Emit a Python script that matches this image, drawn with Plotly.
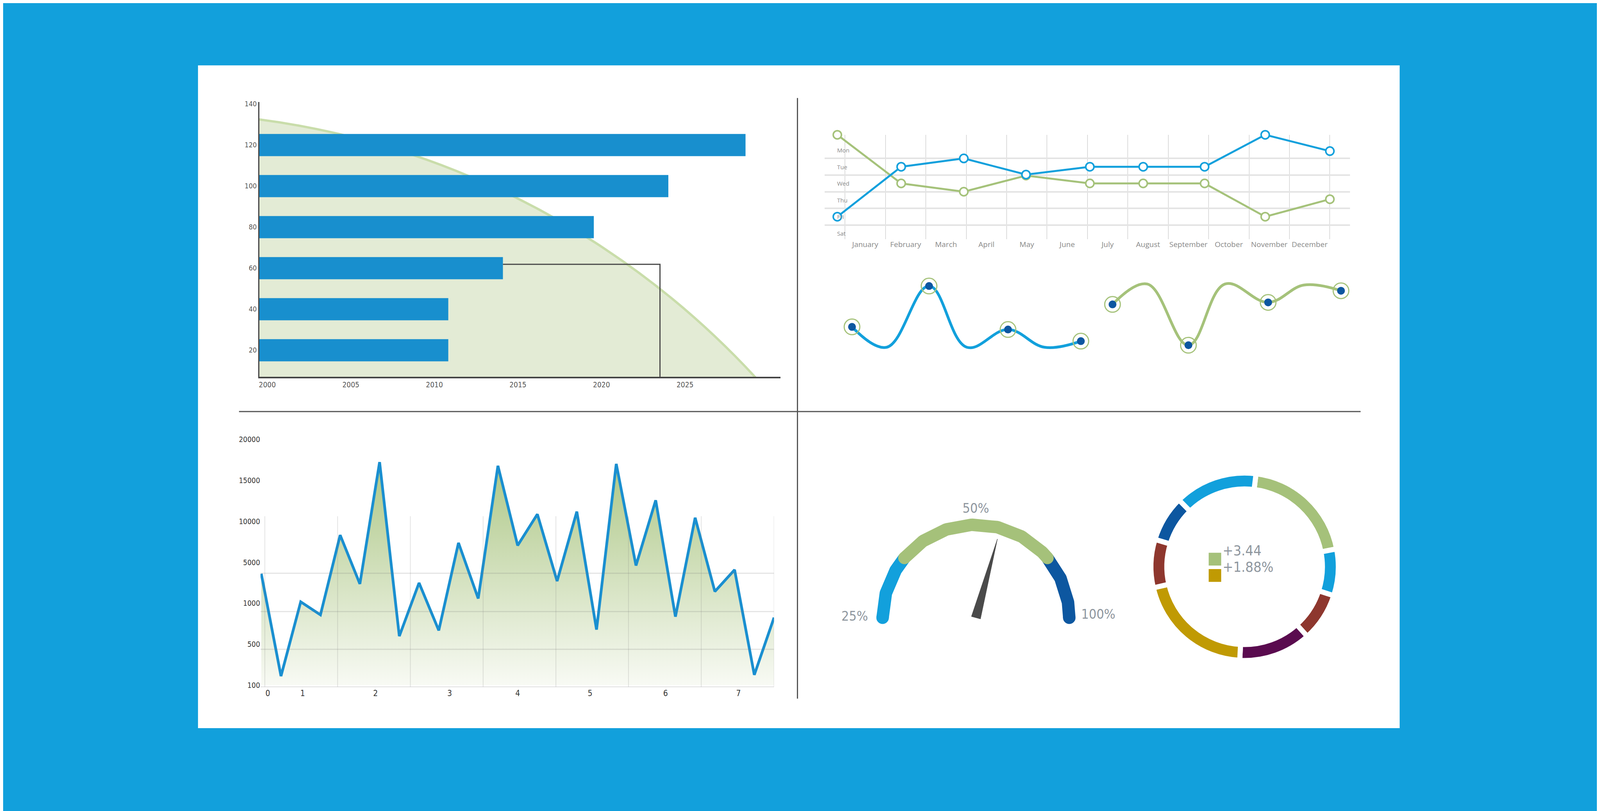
import numpy as np
import plotly.graph_objects as go

W, H = 4117, 2075
OX, OY = -22, -13  # compensate page offset
NARROW = "Liberation Sans Narrow, DejaVu Sans Condensed, Arial Narrow, sans-serif"

# ---- panel 1: horizontal bars (years) ----
bar_y = [120, 100, 80, 60, 40, 20]
bar_end = [2028.62, 2024.0, 2019.54, 2014.1, 2010.83, 2010.83]
bar_x_ticks = [2000, 2005, 2010, 2015, 2020, 2025]
bar_y_ticks = [20, 40, 60, 80, 100, 120, 140]
bar_x_start = 1999.52
bracket_x = [2014.1, 2023.5]
bracket_y = 61.9
ellipse_c = (1993.21, -269.4)
ellipse_ab = (49.2, 405.2)

# ---- panel 2: day lines ----
months = ["January", "February", "March", "April", "May", "June", "July",
          "August", "September", "October", "November", "December"]
days = ["Mon", "Tue", "Wed", "Thu", "Fri", "Sat"]
day_x = [-0.69, 0.89, 2.44, 3.98, 5.56, 6.88, 8.4, 9.9, 11.5]
blue_days = [4.0, 1.0, 0.5, 1.47, 1.0, 1.0, 1.0, -0.92, 0.06]
green_days = [-0.92, 2.0, 2.5, 1.53, 2.0, 2.0, 2.0, 4.0, 2.95]

# ---- panel 3: waves ----
wave_blue_x = [0, 0.91, 2.02, 3.01, 4.09, 5.05, 6.0]
wave_blue_y = [20, 0, 60, 0, 17.4, 0, 6]
wave_green_x = [6.83, 7.74, 8.82, 9.78, 10.91, 11.85, 12.82]
wave_green_y = [42, 62, 2, 62, 44, 61, 55.4]
marker_idx = [0, 2, 4, 6]

# ---- panel 4: area chart ----
area_vals = [3900, 190, 1150, 860, 8340, 2900, 17250, 600, 3000, 670, 7390, 1480,
             16800, 7070, 10885, 3180, 11205, 680, 17035, 4700, 12585, 838, 10460,
             2160, 4280, 202, 827]
area_y_ticks = [100, 500, 1000, 5000, 10000, 15000, 20000]
area_x_labels = ["0", "1", "2", "3", "4", "5", "6", "7"]
area_x_label_pos = [0.33, 2.1, 5.79, 9.55, 13.0, 16.67, 20.5, 24.2]
area_grid_x = [0.18, 3.87, 7.56, 11.25, 14.94, 18.62, 22.31, 26.0]
area_grid_y = [-0.04, 0.878, 1.80, 2.735]

# ---- panel 5: gauge ----
gauge_bounds = [180, 140, 40, 0]
gauge_colors = ["#12A0DC", "#A5C17A", "#0D57A0"]
gauge_labels = ["25%", "50%", "100%"]
gauge_label_pos = [(-1.30, 0.02), (0.0, 1.18), (1.31, 0.04)]
needle_angle = 74.8
needle_len = 0.877

# ---- panel 6: donut ----
donut_vals = [72, 29, 30, 45, 74, 30, 28.5, 51.5]
donut_colors = ["#A5C17A", "#12A0DC", "#8E372E", "#5A0B4F", "#C09A03",
                "#8E372E", "#0D57A0", "#12A0DC"]
donut_legend = ["+3.44", "+1.88%"]
donut_legend_colors = ["#A5C17A", "#C09A03"]

BLUE = "#12A0DC"
GREEN = "#A5C27A"
DARKBLUE = "#0D57A0"


def PX(a):
    return (a + OX) / W


def PY(a):
    return 1 - (a + OY) / H


def px2paper_x(a, b):
    return [PX(a), PX(b)]


def px2paper_y(top, bottom):
    return [PY(bottom), PY(top)]


fig = go.Figure()

# panel 1
fig.add_trace(go.Bar(y=bar_y, x=[e - bar_x_start for e in bar_end], base=bar_x_start,
                     orientation="h", width=10.8, marker=dict(color="#188FCE", line_width=0),
                     xaxis="x", yaxis="y"))
fig.add_trace(go.Scatter(x=[bracket_x[0], bracket_x[1], bracket_x[1]],
                         y=[bracket_y, bracket_y, 7.0], mode="lines",
                         line=dict(color="#4a4a4a", width=3), xaxis="x", yaxis="y"))

# panel 2
fig.add_trace(go.Scatter(x=day_x, y=green_days, mode="lines+markers",
                         line=dict(color=GREEN, width=5),
                         marker=dict(size=21, color="white", line=dict(color=GREEN, width=4)),
                         cliponaxis=False, xaxis="x2", yaxis="y2"))
fig.add_trace(go.Scatter(x=day_x, y=blue_days, mode="lines+markers",
                         line=dict(color=BLUE, width=5),
                         marker=dict(size=21, color="white", line=dict(color=BLUE, width=4)),
                         cliponaxis=False, xaxis="x2", yaxis="y2"))

# panel 3
for wx, wy, col in [(wave_blue_x, wave_blue_y, BLUE), (wave_green_x, wave_green_y, GREEN)]:
    fig.add_trace(go.Scatter(x=wx, y=wy, mode="lines", line=dict(color=col, width=7, shape="spline", smoothing=1.1),
                             cliponaxis=False, xaxis="x3", yaxis="y3"))
    mx = [wx[i] for i in marker_idx]
    my = [wy[i] for i in marker_idx]
    fig.add_trace(go.Scatter(x=mx, y=my, mode="markers",
                             marker=dict(symbol="circle-open", size=40, color=GREEN, line=dict(color=GREEN, width=3)),
                             cliponaxis=False, xaxis="x3", yaxis="y3"))
    fig.add_trace(go.Scatter(x=mx, y=my, mode="markers",
                             marker=dict(symbol="circle", size=20, color=DARKBLUE),
                             cliponaxis=False, xaxis="x3", yaxis="y3"))

# panel 4
pos = np.interp(area_vals, area_y_ticks, np.arange(len(area_y_ticks)))
idx = list(range(len(area_vals)))
fig.add_trace(go.Scatter(x=idx, y=pos, mode="lines", fill="tozeroy",
                         fillgradient=dict(type="vertical",
                                           colorscale=[[0, "#F8FAF4"], [1, "#ADC786"]]),
                         line=dict(color="#1A8FD0", width=7), cliponaxis=False,
                         xaxis="x4", yaxis="y4"))


# panel 5 gauge
def arc(a0, a1):
    t = np.radians(np.linspace(a0, a1, 120))
    return np.cos(t), np.sin(t)


for i in [0, 2]:
    ax_, ay_ = arc(gauge_bounds[i], gauge_bounds[i + 1])
    fig.add_trace(go.Scatter(x=ax_, y=ay_, mode="lines", line=dict(color=gauge_colors[i], width=32),
                             xaxis="x5", yaxis="y5"))
for ang, col in [(180, gauge_colors[0]), (0, gauge_colors[2])]:
    fig.add_trace(go.Scatter(x=[np.cos(np.radians(ang))], y=[np.sin(np.radians(ang))], mode="markers",
                             marker=dict(size=32, color=col), xaxis="x5", yaxis="y5"))
ax_, ay_ = arc(gauge_bounds[1], gauge_bounds[2])
fig.add_trace(go.Scatter(x=ax_, y=ay_, mode="lines", line=dict(color=gauge_colors[1], width=32),
                         xaxis="x5", yaxis="y5"))
fig.add_trace(go.Scatter(x=[np.cos(np.radians(a)) for a in gauge_bounds[1:3]],
                         y=[np.sin(np.radians(a)) for a in gauge_bounds[1:3]], mode="markers",
                         marker=dict(size=32, color=gauge_colors[1]), xaxis="x5", yaxis="y5"))
na = np.radians(needle_angle)
px_, py_ = -np.sin(na) * 0.05, np.cos(na) * 0.05
fig.add_trace(go.Scatter(x=[px_, needle_len * np.cos(na), -px_, px_],
                         y=[py_, needle_len * np.sin(na), -py_, py_],
                         mode="lines", fill="toself", fillcolor="#4A4A4A",
                         line=dict(color="#4A4A4A", width=1), xaxis="x5", yaxis="y5"))

# panel 6 donut
fig.add_trace(go.Pie(values=donut_vals, marker=dict(colors=donut_colors, line=dict(color="white", width=13)),
                     hole=0.83, sort=False, direction="clockwise", rotation=7, textinfo="none",
                     hoverinfo="skip", domain=dict(x=px2paper_x(2959, 3441), y=px2paper_y(1216, 1698))))

shapes = [
    dict(type="rect", xref="paper", yref="paper", x0=PX(520), x1=PX(3597), y0=PY(1872), y1=PY(168),
         fillcolor="white", line_width=0, layer="below"),
    dict(type="line", xref="paper", yref="paper", x0=PX(2055), x1=PX(2055), y0=PY(1796), y1=PY(252),
         line=dict(color="#555", width=3)),
    dict(type="line", xref="paper", yref="paper", x0=PX(625), x1=PX(3497), y0=PY(1058), y1=PY(1058),
         line=dict(color="#555", width=3)),
    dict(type="circle", xref="x", yref="y", x0=ellipse_c[0] - ellipse_ab[0], x1=ellipse_c[0] + ellipse_ab[0],
         y0=ellipse_c[1] - ellipse_ab[1], y1=ellipse_c[1] + ellipse_ab[1],
         fillcolor="#E3EBD5", line=dict(color="#C9DDAA", width=6), layer="below"),
]
for gx in area_grid_x:
    shapes.append(dict(type="line", xref="x4", yref="y4", x0=gx, x1=gx, y0=-0.04, y1=4.13,
                       line=dict(color="rgba(120,120,120,0.2)", width=2), layer="above"))
for gy in area_grid_y:
    shapes.append(dict(type="line", xref="x4", yref="y4", x0=-0.04, x1=26, y0=gy, y1=gy,
                       line=dict(color="rgba(120,120,120,0.2)", width=3), layer="above"))
for lc, yy in zip(donut_legend_colors, [1421, 1463]):
    shapes.append(dict(type="rect", xref="paper", yref="paper", x0=PX(3108), x1=PX(3140),
                       y0=PY(yy + 33), y1=PY(yy), fillcolor=lc, line_width=0))

annotations = []
for i, d in enumerate(days):
    annotations.append(dict(xref="x2", yref="y2", x=-0.71, y=i, text=d, showarrow=False, xanchor="left",
                            font=dict(family="Open Sans", size=15, color="#888")))
for t, (gx, gy) in zip(gauge_labels, gauge_label_pos):
    annotations.append(dict(xref="x5", yref="y5", x=gx, y=gy, text=t, showarrow=False,
                            font=dict(family=NARROW, size=34, color="#8E969E")))
for t, yy in zip(donut_legend, [1438, 1480]):
    annotations.append(dict(xref="paper", yref="paper", x=PX(3142), y=PY(yy), text=t, showarrow=False,
                            xanchor="left", font=dict(family=NARROW, size=36, color="#8E969E")))

fig.update_layout(
    width=W, height=H, margin=dict(l=0, r=0, t=0, b=0), paper_bgcolor="#12A0DC",
    plot_bgcolor="rgba(0,0,0,0)", showlegend=False, shapes=shapes, annotations=annotations,
    xaxis=dict(domain=px2paper_x(677, 2011), range=[bar_x_start, 2030.7], tickvals=bar_x_ticks, anchor="y",
               showgrid=False, zeroline=False, showline=True, linecolor="#444", linewidth=4,
               tickfont=dict(family=NARROW, size=19, color="#555"), ticks=""),
    yaxis=dict(domain=px2paper_y(262, 969), range=[7.0, 141], tickvals=bar_y_ticks, anchor="x",
               showgrid=False, zeroline=False, showline=True, linecolor="#444", linewidth=3,
               tickfont=dict(family=NARROW, size=18, color="#555"), ticks=""),
    xaxis2=dict(domain=px2paper_x(2125, 3470), range=[-1, 12], tickvals=list(range(12)), ticktext=months,
                anchor="y2", showgrid=False, zeroline=False, showline=False, ticks="",
                minor=dict(tick0=0.5, dtick=1, showgrid=True, gridcolor="#dcdcdc", gridwidth=2),
                tickfont=dict(family="Open Sans", size=19, color="#888")),
    yaxis2=dict(domain=px2paper_y(346.5, 614.8), range=[5.35, -0.92], tickvals=[0.5, 1.5, 2.5, 3.5, 4.5],
                anchor="x2", showticklabels=False, showgrid=True, gridcolor="#e4e4e4", gridwidth=4, zeroline=False),
    xaxis3=dict(domain=px2paper_x(2097, 3562), range=[-1, 14], visible=False, anchor="y3"),
    yaxis3=dict(domain=px2paper_y(696, 919), range=[-10, 75], visible=False, anchor="x3"),
    xaxis4=dict(domain=px2paper_x(680, 1995), range=[-0.04, 26.0], tickvals=area_x_label_pos, anchor="y4",
                ticktext=area_x_labels, showgrid=False, zeroline=False, ticks="",
                tickfont=dict(family=NARROW, size=21, color="#333")),
    yaxis4=dict(domain=px2paper_y(1119.6, 1767), range=[-0.05, 6.1], tickvals=list(range(7)), anchor="x4",
                ticktext=[str(v) for v in area_y_ticks], showgrid=False, zeroline=False, ticks="",
                tickfont=dict(family=NARROW, size=19, color="#333")),
    xaxis5=dict(domain=px2paper_x(2153.5, 2870.5), range=[-1.5, 1.5], visible=False, anchor="y5"),
    yaxis5=dict(domain=px2paper_y(1229.5, 1946.5), range=[-1.5, 1.5], visible=False, anchor="x5"),
)

fig.write_html("out.html")
